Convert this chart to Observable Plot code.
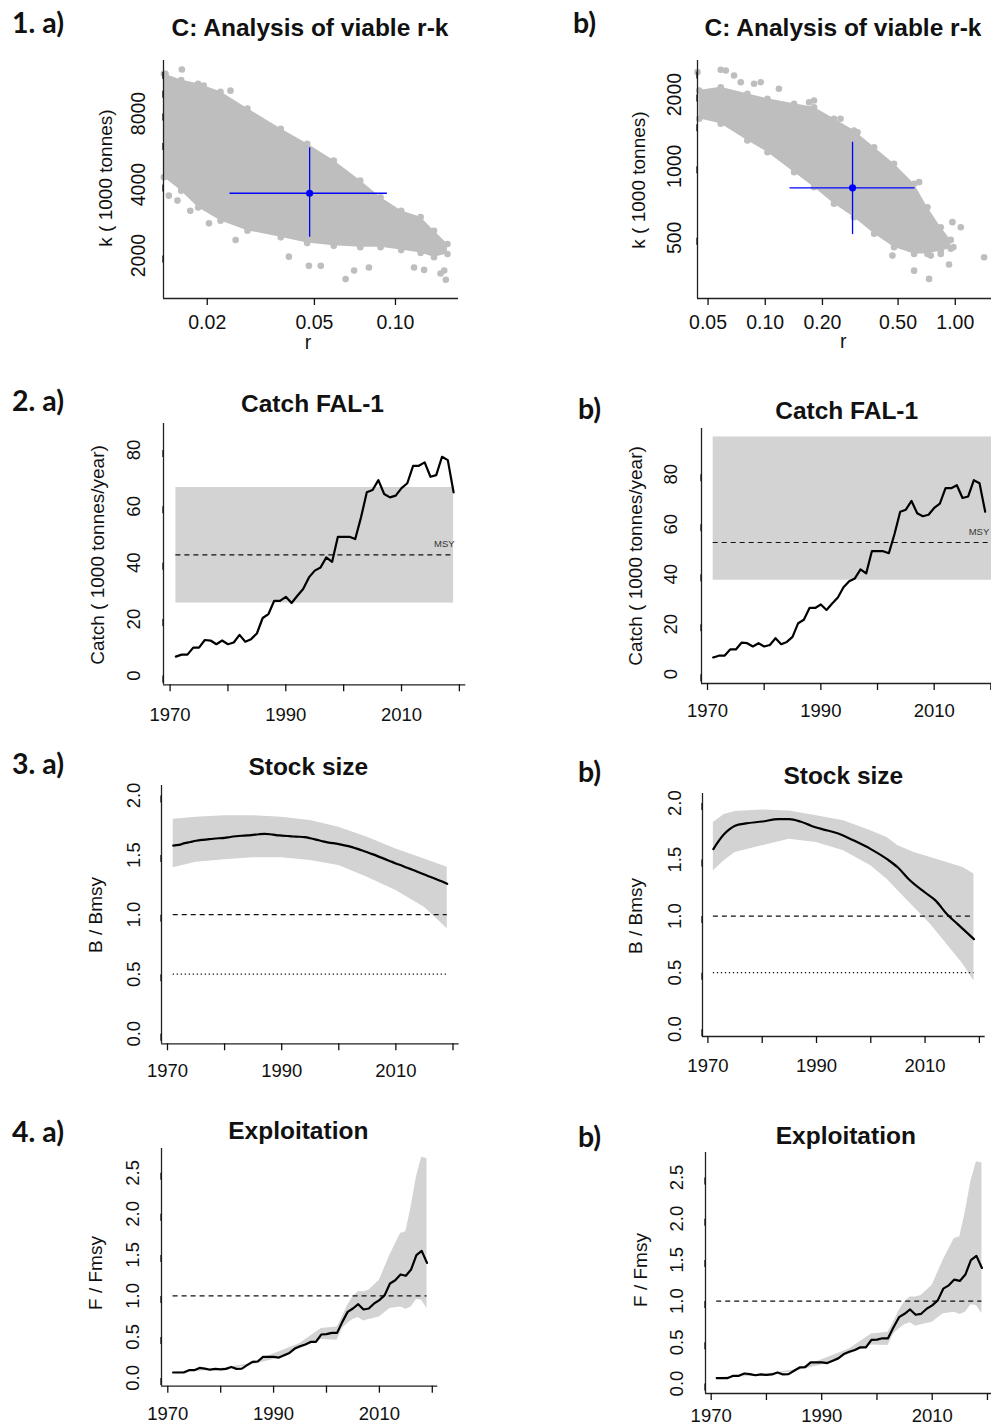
<!DOCTYPE html>
<html><head><meta charset="utf-8">
<script src="https://cdn.jsdelivr.net/npm/d3@7"></script>
<script src="https://cdn.jsdelivr.net/npm/@observablehq/plot@0.6"></script>
<style>
html,body{margin:0;padding:0;background:#fff;width:991px;height:1425px;overflow:hidden;}
#root{position:relative;width:991px;height:1425px;overflow:hidden;font-family:"Liberation Sans",Arial,sans-serif;color:#111;}
.t{position:absolute;white-space:nowrap;line-height:1;}
.title{font-weight:bold;font-size:24.5px;transform:translate(-50%,-50%);}
.tag{font-family:Lato,"Open Sans",sans-serif;font-weight:bold;font-size:28.5px;transform:translate(0,-50%);}
.ylab{font-size:19px;transform:translate(-50%,-50%) rotate(-90deg);}
.xlab{font-size:19.5px;transform:translate(-50%,-50%);}
</style></head>
<body><div id="root"></div>
<script>
// ---------- Row 1: viable r-k (outline of the point cloud) ----------
const rkA_r  = [0.0138, 0.0160, 0.0185, 0.0224, 0.0282, 0.0375, 0.047, 0.059, 0.074, 0.088, 0.105, 0.124, 0.139, 0.156];
const rkA_hi = [11800, 11100, 10700, 9900, 8400, 6900, 5950, 5060, 4160, 3530, 3100, 2910, 2550, 2240];
const rkA_lo = [4300, 3770, 3200, 2810, 2550, 2390, 2260, 2200, 2170, 2170, 2110, 2050, 1970, 2030];
const rkA_outR = [0.0144, 0.0155, 0.0173, 0.0203, 0.0255, 0.0402, 0.0477, 0.0528, 0.0653, 0.0702, 0.0797, 0.1172, 0.1277, 0.1517, 0.1538, 0.147, 0.0161, 0.0140, 0.0244, 0.0194];
const rkA_outK = [3590, 3420, 3100, 2740, 2330, 1980, 1810, 1810, 1590, 1730, 1780, 1780, 1740, 1730, 1580, 1680, 12300, 11800, 10000, 10500];
const rkA_best = [0.048, 3674];
const rkA_rCI = [0.0243, 0.0933];
const rkA_kCI = [2392, 5725];

const rkB_r  = [0.0449, 0.0583, 0.0805, 0.1027, 0.1418, 0.1806, 0.230, 0.293, 0.374, 0.476, 0.607, 0.714, 0.839, 0.947];
const rkB_hi = [2081, 2148, 2016, 1920, 1830, 1770, 1582, 1413, 1202, 1023, 843, 672, 554, 490];
const rkB_lo = [1582, 1508, 1282, 1145, 944, 816, 695, 610, 520, 457, 428, 428, 440, 450];
const rkB_outR = [0.0440, 0.0583, 0.0620, 0.0685, 0.0743, 0.0873, 0.0947, 0.118, 0.170, 0.1806, 0.249, 0.306, 0.645, 0.966, 1.069, 1.418, 0.743, 0.728, 0.607, 0.467, 0.927, 0.839, 0.977];
const rkB_outK = [2485, 2542, 2526, 2406, 2255, 2221, 2255, 2115, 1858, 1889, 1582, 1390, 857, 582, 554, 414, 421, 336, 364, 421, 386, 428, 457];
const rkB_best = [0.288, 811];
const rkB_rCI = [0.135, 0.614];
const rkB_kCI = [516, 1261];

// ---------- Row 2: catch ----------
const catchYears = d3.range(1971, 2020);
const catchVals = [6.7, 7.4, 7.4, 9.9, 9.9, 12.6, 12.4, 11.1, 12.4, 11.1,
  11.7, 14.4, 12.0, 12.9, 14.9, 20.4, 21.8, 26.5, 26.5, 27.9,
  25.7, 28.3, 30.7, 34.8, 37.2, 38.3, 41.9, 40.3, 49.2, 49.2,
  49.2, 48.4, 56.1, 65.0, 65.8, 69.3, 64.4, 63.2, 63.8, 66.5,
  68.2, 74.4, 74.4, 75.6, 70.5, 71.1, 77.6, 76.4, 65.0];
const catchA_msy = 42.8, catchA_range = [25.7, 66.7], catchA_span = [1971, 2019];
const catchB_msy = 52.7, catchB_range = [37.6, 94.9], catchB_span = [1971, 2021];

// ---------- Row 3: B/Bmsy ----------
const bA_years = d3.range(1971, 2020);
const bA_vals = [1.580, 1.585, 1.600, 1.610, 1.620, 1.627, 1.632, 1.637, 1.641, 1.644,
  1.652, 1.658, 1.662, 1.665, 1.670, 1.675, 1.678, 1.675, 1.668, 1.664,
  1.660, 1.656, 1.654, 1.650, 1.641, 1.630, 1.618, 1.607, 1.600, 1.592,
  1.582, 1.571, 1.556, 1.540, 1.524, 1.506, 1.487, 1.468, 1.449, 1.430,
  1.412, 1.393, 1.375, 1.356, 1.337, 1.318, 1.300, 1.280, 1.258];
const bA_bandYears = [1971, 1975, 1980, 1985, 1990, 1995, 2000, 2005, 2010, 2015, 2019];
const bA_hi = [1.800, 1.817, 1.830, 1.830, 1.817, 1.790, 1.733, 1.650, 1.552, 1.468, 1.398];
const bA_lo = [1.393, 1.440, 1.460, 1.477, 1.477, 1.454, 1.412, 1.314, 1.202, 1.062, 0.881];

const bB_years = [1971, 1972, 1973, 1974, 1975, 1977, 1980, 1983, 1985, 1987, 1989, 1991, 1994, 1997, 2000, 2003, 2005, 2007, 2010, 2012, 2014, 2016, 2018, 2019];
const bB_vals = [1.593, 1.666, 1.726, 1.770, 1.800, 1.820, 1.837, 1.858, 1.858, 1.837, 1.800, 1.770, 1.731, 1.666, 1.593, 1.504, 1.430, 1.327, 1.209, 1.135, 1.018, 0.929, 0.841, 0.796];
const bB_bandYears = [1971, 1973, 1975, 1980, 1985, 1990, 1995, 2000, 2003, 2005, 2008, 2011, 2014, 2017, 2019];
const bB_hi = [1.828, 1.900, 1.926, 1.938, 1.930, 1.888, 1.843, 1.755, 1.696, 1.622, 1.563, 1.519, 1.474, 1.430, 1.372];
const bB_lo = [1.401, 1.490, 1.563, 1.622, 1.681, 1.651, 1.578, 1.445, 1.327, 1.224, 1.076, 0.929, 0.752, 0.575, 0.427];
const bRefs = [1.0, 0.5];

// ---------- Row 4: F/Fmsy ----------
const fYears = d3.range(1971, 2020);
const fVals = [0.066, 0.066, 0.066, 0.094, 0.094, 0.122, 0.114, 0.100, 0.110, 0.105,
  0.110, 0.134, 0.110, 0.114, 0.155, 0.195, 0.200, 0.256, 0.256, 0.256,
  0.248, 0.277, 0.305, 0.358, 0.386, 0.407, 0.439, 0.439, 0.529, 0.533,
  0.549, 0.549, 0.683, 0.805, 0.846, 0.899, 0.834, 0.846, 0.907, 0.948,
  1.009, 1.151, 1.191, 1.261, 1.245, 1.322, 1.496, 1.549, 1.402];
const fBandYears = [1971, 1980, 1985, 1990, 1995, 1999, 2002, 2003, 2004, 2005, 2006, 2007, 2008, 2010, 2012, 2014, 2015, 2016, 2017, 2018, 2019];
const fHi = [0.070, 0.115, 0.165, 0.290, 0.419, 0.602, 0.622, 0.744, 0.886, 0.988, 1.049, 1.050, 1.069, 1.191, 1.500, 1.761, 1.782, 2.085, 2.450, 2.690, 2.675];
const fLo = [0.060, 0.100, 0.145, 0.224, 0.354, 0.468, 0.460, 0.602, 0.663, 0.712, 0.736, 0.695, 0.712, 0.744, 0.846, 0.866, 0.838, 0.866, 0.956, 0.948, 0.846];

const yearTicks = [1970, 1980, 1990, 2000, 2010, 2020];
const yearLabels = [1970, 1990, 2010];

// ---------- drawing ----------
const root = document.getElementById("root");
const FONT = '"Liberation Sans", Arial, sans-serif';
const AX = "#222", GREY = "#bebebe", LGREY = "#d3d3d3";
const zip = (xs, ys, kx, ky) => xs.map((x, i) => ({[kx]: x, [ky]: ys[i]}));
const band = (xs, lo, hi) => xs.map((x, i) => ({x, lo: lo[i], hi: hi[i]}));
const yearFmt = d => yearLabels.includes(d) ? String(d) : "";

function panel(c) {
  const mL = 70, mR = 6, mT = 6, mB = 50;
  const W = c.right - c.left, H = c.bottom - c.top;
  const svg = Plot.plot({
    width: W + mL + mR, height: H + mT + mB,
    marginLeft: mL, marginRight: mR, marginTop: mT, marginBottom: mB,
    style: {background: "transparent", overflow: "visible", fontFamily: FONT, fontSize: c.fs + "px", color: "#111"},
    x: {type: c.xType || "linear", domain: c.xDomain},
    y: {type: c.yType || "linear", domain: c.yDomain},
    marks: [
      ...c.marks,
      Plot.ruleX([c.xDomain[0]], {stroke: AX, strokeWidth: 1.3}),
      Plot.ruleY([c.yDomain[0]], {stroke: AX, strokeWidth: 1.3}),
      Plot.axisX({ticks: c.xTicks, tickFormat: c.xFmt, tickSize: 7, tickPadding: c.xOff - 7,
        fontSize: c.fs, color: "#111", strokeWidth: 1.3, label: null}),
      Plot.axisY({ticks: c.yTicks, tickFormat: c.yFmt, tickSize: 7, tickPadding: c.yOff - 7,
        fontSize: c.fs, rotate: -90, textAnchor: "middle", lineAnchor: "middle",
        color: "#111", strokeWidth: 1.3, label: null})
    ]
  });
  svg.style.position = "absolute";
  svg.style.left = (c.left - mL) + "px";
  svg.style.top = (c.top - mT) + "px";
  root.appendChild(svg);
}
function txt(s, x, y, cls) {
  const d = document.createElement("div");
  d.className = "t " + cls; d.textContent = s;
  d.style.left = x + "px"; d.style.top = y + "px";
  root.appendChild(d);
}

function rkMarks(r, lo, hi, outR, outK, best, rCI, kCI) {
  const b = band(r, lo, hi);
  const out = zip(outR, outK, "r", "k");
  return [
    Plot.areaY(b, {x: "x", y1: "lo", y2: "hi", fill: GREY}),
    Plot.dot(b, {x: "x", y: "hi", r: 3.3, fill: GREY}),
    Plot.dot(b, {x: "x", y: "lo", r: 3.3, fill: GREY}),
    Plot.dot(out, {x: "r", y: "k", r: 3.3, fill: GREY}),
    Plot.ruleY([best[1]], {x1: rCI[0], x2: rCI[1], stroke: "#0000ff", strokeWidth: 1.3}),
    Plot.ruleX([best[0]], {y1: kCI[0], y2: kCI[1], stroke: "#0000ff", strokeWidth: 1.3}),
    Plot.dot([best], {x: d => d[0], y: d => d[1], r: 3.6, fill: "#0000ff"})
  ];
}

// 1 a)
panel({left: 163, right: 458, top: 60, bottom: 298, xType: "log", yType: "log",
  xDomain: [0.01376, 0.1714], yDomain: [1316, 13420], fs: 19.5, xOff: 17, yOff: 25,
  xTicks: [0.02, 0.05, 0.10], xFmt: d3.format(".2f"),
  yTicks: [2000, 4000, 6000, 8000, 10000, 12000], yFmt: d => [2000, 4000, 8000].includes(d) ? String(d) : "",
  marks: rkMarks(rkA_r, rkA_lo, rkA_hi, rkA_outR, rkA_outK, rkA_best, rkA_rCI, rkA_kCI)});
// 1 b)
panel({left: 696.7, right: 995, top: 60, bottom: 298, xType: "log", yType: "log",
  xDomain: [0.044, 1.634], yDomain: [278, 2782], fs: 19.5, xOff: 16.7, yOff: 23,
  xTicks: [0.05, 0.10, 0.20, 0.50, 1.00], xFmt: d3.format(".2f"),
  yTicks: [500, 1000, 1500, 2000, 2500], yFmt: d => [500, 1000, 2000].includes(d) ? String(d) : "",
  marks: rkMarks(rkB_r, rkB_lo, rkB_hi, rkB_outR, rkB_outK, rkB_best, rkB_rCI, rkB_kCI)});

function catchMarks(span, range, msy, msyAt) {
  const data = zip(catchYears, catchVals, "year", "c");
  return [
    Plot.rect([0], {x1: span[0], x2: span[1], y1: range[0], y2: range[1], fill: LGREY}),
    Plot.ruleY([msy], {x1: span[0], x2: span[1], stroke: "#111", strokeWidth: 1.1, strokeDasharray: "5,4"}),
    Plot.text(["MSY"], {x: msyAt[0], y: msyAt[1], fontSize: 9.5, fill: "#333", fontFamily: FONT}),
    Plot.line(data, {x: "year", y: "c", stroke: "#000", strokeWidth: 2.2})
  ];
}
// 2 a)
panel({left: 162.7, right: 465, top: 422.7, bottom: 684,
  xDomain: [1968.86, 2021.11], yDomain: [-3.3, 89.4], fs: 18.5, xOff: 22.6, yOff: 29,
  xTicks: yearTicks, xFmt: yearFmt, yTicks: [0, 20, 40, 60, 80], yFmt: d => String(d),
  marks: catchMarks(catchA_span, catchA_range, catchA_msy, [2017.4, 46.6])});
// 2 b)
panel({left: 700.7, right: 995, top: 428.3, bottom: 683.3,
  xDomain: [1968.94, 2020.87], yDomain: [-3.72, 98.28], fs: 18.5, xOff: 20, yOff: 30.7,
  xTicks: yearTicks, xFmt: yearFmt, yTicks: [0, 20, 40, 60, 80], yFmt: d => String(d),
  marks: catchMarks(catchB_span, catchB_range, catchB_msy, [2017.9, 56.9])});

function stockMarks(years, vals, bYears, lo, hi) {
  return [
    Plot.areaY(band(bYears, lo, hi), {x: "x", y1: "lo", y2: "hi", fill: LGREY}),
    Plot.ruleY([bRefs[0]], {x1: 1971, x2: 2019, stroke: "#111", strokeWidth: 1.1, strokeDasharray: "5,4"}),
    Plot.ruleY([bRefs[1]], {x1: 1971, x2: 2019, stroke: "#111", strokeWidth: 1.3, strokeDasharray: "1.3,2.7"}),
    Plot.line(zip(years, vals, "year", "v"), {x: "year", y: "v", stroke: "#000", strokeWidth: 2.2, curve: "monotone-x"})
  ];
}
const f1 = d3.format(".1f");
// 3 a)
panel({left: 160.7, right: 458.3, top: 785, bottom: 1043.3,
  xDomain: [1968.95, 2021.07], yDomain: [-0.084, 2.084], fs: 18.5, xOff: 20, yOff: 27,
  xTicks: yearTicks, xFmt: yearFmt, yTicks: [0, 0.5, 1, 1.5, 2], yFmt: f1,
  marks: stockMarks(bA_years, bA_vals, bA_bandYears, bA_lo, bA_hi)});
// 3 b)
panel({left: 702.3, right: 985, top: 792.7, bottom: 1035.7,
  xDomain: [1969.0, 2021.07], yDomain: [-0.065, 2.085], fs: 18.5, xOff: 22.6, yOff: 27,
  xTicks: yearTicks, xFmt: yearFmt, yTicks: [0, 0.5, 1, 1.5, 2], yFmt: f1,
  marks: stockMarks(bB_years, bB_vals, bB_bandYears, bB_lo, bB_hi)});

function fMarks() {
  return [
    Plot.areaY(band(fBandYears, fLo, fHi), {x: "x", y1: "lo", y2: "hi", fill: LGREY}),
    Plot.ruleY([1], {x1: 1971, x2: 2019, stroke: "#111", strokeWidth: 1.1, strokeDasharray: "5,4"}),
    Plot.line(zip(fYears, fVals, "year", "v"), {x: "year", y: "v", stroke: "#000", strokeWidth: 2.2})
  ];
}
// 4 a)
panel({left: 161, right: 437.3, top: 1148.3, bottom: 1386,
  xDomain: [1968.81, 2021.04], yDomain: [-0.101, 2.797], fs: 18.5, xOff: 20.6, yOff: 28,
  xTicks: yearTicks, xFmt: yearFmt, yTicks: [0, 0.5, 1, 1.5, 2, 2.5], yFmt: f1, marks: fMarks()});
// 4 b)
panel({left: 705, right: 992.5, top: 1151.7, bottom: 1392.7,
  xDomain: [1968.97, 2021.0], yDomain: [-0.121, 2.803], fs: 18.5, xOff: 15, yOff: 28,
  xTicks: yearTicks, xFmt: yearFmt, yTicks: [0, 0.5, 1, 1.5, 2, 2.5], yFmt: f1, marks: fMarks()});

// ---------- text ----------
txt("1. a)", 12, 22, "tag");   txt("b)", 573, 22, "tag");
txt("2. a)", 12, 400, "tag");  txt("b)", 578, 408, "tag");
txt("3. a)", 12, 763, "tag");  txt("b)", 578, 771, "tag");
txt("4. a)", 12, 1131, "tag"); txt("b)", 578, 1136, "tag");

txt("C: Analysis of viable r-k", 310, 28, "title");
txt("C: Analysis of viable r-k", 843, 28, "title");
txt("Catch FAL-1", 312.5, 404, "title");
txt("Catch FAL-1", 846.7, 410.7, "title");
txt("Stock size", 308.3, 767, "title");
txt("Stock size", 843.3, 776, "title");
txt("Exploitation", 298.3, 1131, "title");
txt("Exploitation", 845.8, 1136, "title");

txt("k ( 1000 tonnes)", 105, 178, "ylab");
txt("k ( 1000 tonnes)", 638.3, 180, "ylab");
txt("r", 308, 343, "xlab");
txt("r", 843.3, 342, "xlab");
txt("Catch ( 1000 tonnes/year)", 96.7, 555, "ylab");
txt("Catch ( 1000 tonnes/year)", 635, 556, "ylab");
txt("B / Bmsy", 95, 915, "ylab");
txt("B / Bmsy", 635, 916, "ylab");
txt("F / Fmsy", 95, 1273, "ylab");
txt("F / Fmsy", 640, 1270, "ylab");
</script>
</body></html>
